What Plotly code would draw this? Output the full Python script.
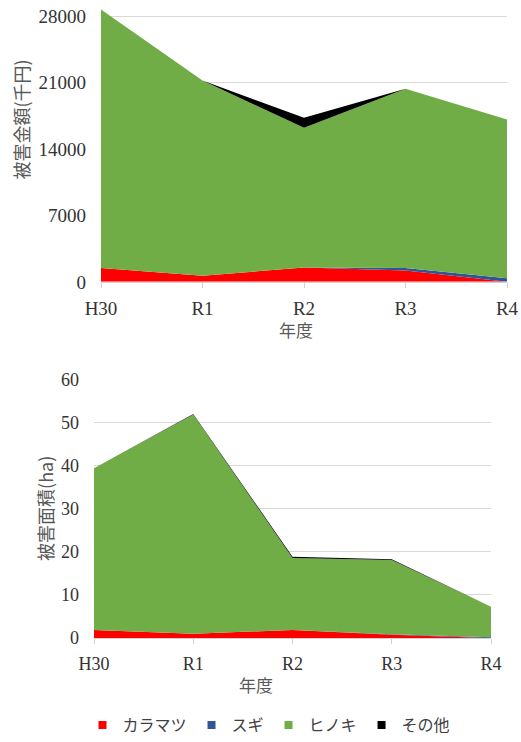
import plotly.graph_objects as go

categories = ["H30", "R1", "R2", "R3", "R4"]
series_names = ["カラマツ", "スギ", "ヒノキ", "その他"]
colors = ["#ff0000", "#2f5597", "#70ad47", "#000000"]

# 被害金額 (千円)
amount_karamatsu = [1450, 650, 1500, 1200, 0]
amount_sugi = [0, 0, 0, 250, 380]
amount_hinoki = [27250, 20570, 14730, 18900, 16720]
amount_sonota = [0, 0, 1050, 0, 0]

# 被害面積 (ha)
area_karamatsu = [1.9, 1.0, 1.9, 0.8, 0.0]
area_sugi = [0.0, 0.0, 0.0, 0.1, 0.2]
area_hinoki = [37.5, 50.9, 16.7, 17.2, 7.1]
area_sonota = [0.0, 0.1, 0.3, 0.2, 0.0]

amount_ticks = [0, 7000, 14000, 21000, 28000]
area_ticks = [0, 10, 20, 30, 40, 50, 60]

fig = go.Figure()

top_series = [amount_karamatsu, amount_sugi, amount_hinoki, amount_sonota]
bot_series = [area_karamatsu, area_sugi, area_hinoki, area_sonota]

for name, vals, c in zip(series_names, top_series, colors):
    fig.add_trace(go.Scatter(x=categories, y=vals, name=name, mode="lines",
                             stackgroup="top", line=dict(width=0, color=c),
                             fillcolor=c, showlegend=False, hoverinfo="skip",
                             xaxis="x", yaxis="y"))
for name, vals, c in zip(series_names, bot_series, colors):
    fig.add_trace(go.Scatter(x=categories, y=vals, name=name, mode="lines",
                             stackgroup="bot", line=dict(width=0, color=c),
                             fillcolor=c, showlegend=False, hoverinfo="skip",
                             xaxis="x2", yaxis="y2"))
# legend entries (square markers)
for name, c in zip(series_names, colors):
    fig.add_trace(go.Scatter(x=[None], y=[None], name=name, mode="markers",
                             marker=dict(symbol="square", size=8, color=c),
                             xaxis="x", yaxis="y"))

W, H = 521, 742


def px(x):
    return x / W


def py(y):
    return 1 - y / H


cjk = "Noto Sans CJK JP"
title_color = "#595959"


def xax(domain, anchor, fs):
    return dict(domain=domain, anchor=anchor, type="category",
                range=[0, 4], showgrid=False, showline=True,
                linecolor="#d0d0d0", linewidth=1, ticks="outside",
                ticklen=5, tickcolor="#d0d0d0",
                tickfont=dict(family="Liberation Serif", size=fs, color="#333333"),
                ticklabelstandoff=4, ticklabeloverflow="allow",
                zeroline=False, automargin=False)


def yax(domain, anchor, rng, ticks, fs):
    return dict(domain=domain, anchor=anchor, range=rng, tickvals=ticks,
                tickformat="d",
                showgrid=True, gridcolor="#d9d9d9", gridwidth=1,
                showline=False, zeroline=False,
                tickfont=dict(family="Liberation Serif", size=fs, color="#333333"),
                ticklabelstandoff=14, ticklabeloverflow="allow", automargin=False)


fig.update_layout(
    width=W, height=H,
    margin=dict(l=0, r=0, t=0, b=0),
    paper_bgcolor="white", plot_bgcolor="white",
    xaxis=xax([px(101), px(507)], "y", 19),
    yaxis=yax([py(283), py(8.5)], "x", [0, 28800], amount_ticks, 19),
    xaxis2=xax([px(94), px(491)], "y2", 18),
    yaxis2=yax([py(640.7), py(381)], "x2", [0, 60], area_ticks, 18),
    legend=dict(orientation="h", x=px(269), xanchor="center", y=py(728),
                yanchor="middle", font=dict(family=cjk, size=16, color="#404040"),
                itemwidth=30, traceorder="normal"),
    showlegend=True,
    annotations=[
        dict(text="被害金額(千円)", x=px(21), y=py(120), xref="paper", yref="paper",
             xanchor="center", yanchor="middle",
             textangle=-90, showarrow=False, font=dict(family=cjk, size=18, color=title_color)),
        dict(text="年度", x=px(296), y=py(331), xref="paper", yref="paper",
             xanchor="center", yanchor="middle",
             showarrow=False, font=dict(family=cjk, size=17, color=title_color)),
        dict(text="被害面積(ha)", x=px(45), y=py(511), xref="paper", yref="paper",
             xanchor="center", yanchor="middle",
             textangle=-90, showarrow=False, font=dict(family=cjk, size=18, color=title_color)),
        dict(text="年度", x=px(256), y=py(687), xref="paper", yref="paper",
             xanchor="center", yanchor="middle",
             showarrow=False, font=dict(family=cjk, size=17, color=title_color)),
    ],
)

fig.write_html("out.html",
               config={"displayModeBar": False},
               post_script="document.body.style.margin='0';"
                           "document.documentElement.style.overflow='hidden';")
